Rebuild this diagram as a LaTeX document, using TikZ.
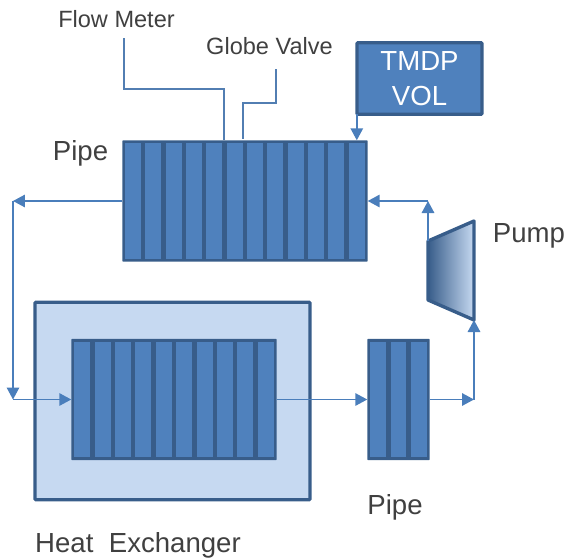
\documentclass[tikz,border=0pt]{standalone}
\usepackage{fontspec}
\setmainfont{Liberation Sans}
\usetikzlibrary{
  arrows.meta,
  positioning
}
\definecolor{cellblue}{RGB}{79,129,189}
\definecolor{edgeblue}{RGB}{56,93,138}
\definecolor{lineblue}{RGB}{74,126,187}
\definecolor{hxblue}{RGB}{198,217,241}
\definecolor{labelgray}{RGB}{64,64,64}

\begin{document}
\begin{tikzpicture}[
  x=0.02cm, y=-0.02cm,
  pipebody/.style={fill=edgeblue, rounded corners=0.5pt, minimum height=2.43cm,
               inner sep=0pt, outer sep=0pt},
  cell/.style={fill=cellblue, minimum height=2.32cm, minimum width=0.32cm,
               inner sep=0pt, outer sep=0pt},
  block/.style={draw=edgeblue, line width=1.9pt, rounded corners=0.5pt, inner sep=0pt, outer sep=0pt},
  arr/.style={-{Triangle[length=2.4mm, width=2.5mm]}, draw=lineblue, line width=0.9pt},
  lead/.style={draw=lineblue!85!gray, line width=0.9pt},
  biglabel/.style={font=\fontsize{15.7}{18.5}\selectfont, text=labelgray, inner sep=0pt},
  smalllabel/.style={font=\fontsize{13.4}{16}\selectfont, text=labelgray, inner sep=0pt}
]
\useasboundingbox (0,0) rectangle (568,558);

% Heat exchanger shell
\node[block, fill=hxblue, minimum width=5.5cm, minimum height=3.95cm] (hxshell) at (172.5,401) {};

% Pipes
\node[pipebody, minimum width=4.91cm] (pipetop) at (245,201) {};
\node[pipebody, minimum width=4.11cm] (pipehx) at (174,399.5) {};
\node[pipebody, minimum width=1.25cm] (pipeout) at (398.5,399.5) {};
\foreach \i in {1,...,12}
  \node[cell] (pa\i) at ({123+20.33*(\i-0.5)},201) {};
\foreach \i in {1,...,10}
  \node[cell] (hx\i) at ({72+20.4*(\i-0.5)},399.5) {};
\foreach \i in {1,2,3}
  \node[cell] (pb\i) at ({368+20.33*(\i-0.5)},399.5) {};

% Source volume
\node[block, fill=cellblue, minimum width=2.5cm, minimum height=1.43cm, align=center,
      text=white, font=\fontsize{15.7}{19.8}\selectfont] (tmdp) at (419.5,78.5) {TMDP\\VOL};

% Pump
\coordinate (pumpin) at (474,320);
\coordinate (pumpout) at (428,241);
\draw[edgeblue, line width=1.9pt, line join=round, left color=edgeblue, right color=hxblue]
  (pumpout) -- (474,221) -- (pumpin) -- (428,300) -- cycle;

% Elbows and lead ends
\coordinate (elbowa) at (13,201);
\coordinate (elbowb) at (13,399.5);
\coordinate (elbowc) at (474,399.5);
\coordinate (elbowd) at (428,201);
\coordinate (tmdpout) at (tmdp.south west -| pa12);
\coordinate (flowtop) at (124,38);
\coordinate (flowup) at (124,89);
\coordinate (flowdown) at (224,89);
\coordinate (flowend) at (224,140);
\coordinate (valvetop) at (276,69);
\coordinate (valveup) at (276,103);
\coordinate (valvedown) at (243,103);
\coordinate (valveend) at (243,139);

% Loop
\draw[arr] (pipetop.west) -- (elbowa);
\draw[arr] (elbowa) -- (elbowb);
\draw[arr] (elbowb) -- (pipehx.west);
\draw[arr] (pipehx.east) -- (pipeout.west);
\draw[arr] (pipeout.east) -- (elbowc);
\draw[arr] (elbowc) -- (pumpin);
\draw[arr] (pumpout) -- (elbowd);
\draw[arr] (elbowd) -- (pipetop.east);
\draw[arr] (tmdpout) -- (pipetop.north -| pa12);

% Leads
\draw[lead] (flowtop) -- (flowup) -- (flowdown) -- (flowend);
\draw[lead] (valvetop) -- (valveup) -- (valvedown) -- (valveend);

% Labels
\node[smalllabel] (flowlabel) at (116.5,19.5) {Flow Meter};
\node[smalllabel] (valvelabel) at (269.5,46.5) {Globe Valve};
\node[biglabel] (pipea) at (80.5,153.5) {Pipe};
\node[biglabel] (pump) at (529,236) {Pump};
\node[biglabel] (pipeb) at (395,507) {Pipe};
\node[biglabel] (hxlabel) at (138,545) {Heat\hspace{0.28em} Exchanger};

\end{tikzpicture}
\end{document}
